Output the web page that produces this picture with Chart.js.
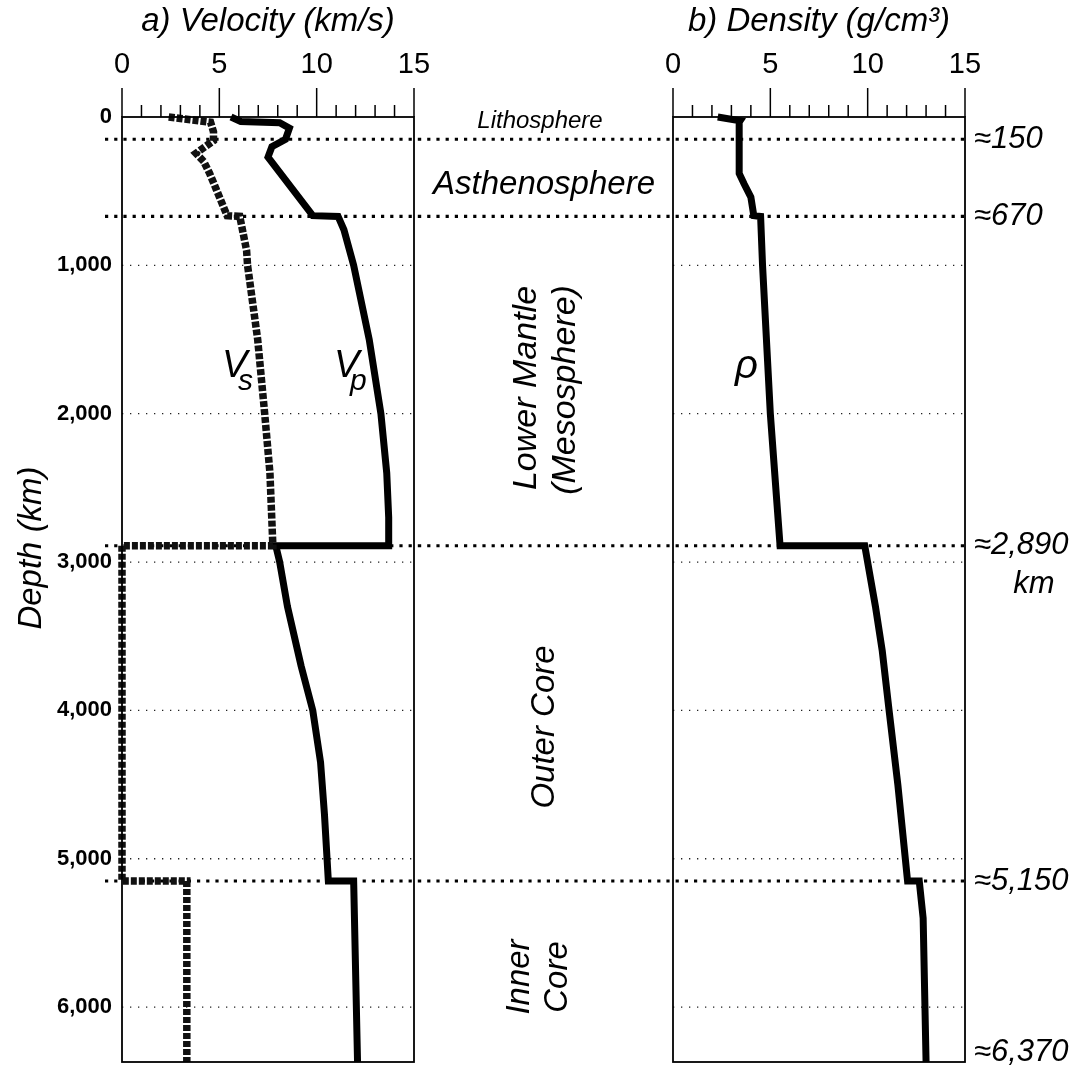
<!DOCTYPE html>
<html>
<head>
<meta charset="utf-8">
<script src="https://cdn.jsdelivr.net/npm/chart.js@4.4.1/dist/chart.umd.min.js"></script>
<style>
  body { margin: 0; background: #fff; }
  #wrap { position: relative; width: 1078px; height: 1071px; }
  .panel { position: absolute; top: 0; height: 1071px; }
  #left { left: 0; width: 440px; }
  #right { left: 418px; width: 660px; }
</style>
</head>
<body>
<div id="wrap">
  <div class="panel" id="left"><canvas id="velocity"></canvas></div>
  <div class="panel" id="right"><canvas id="density"></canvas></div>
</div>
<script>
// P-wave velocity (km/s) against depth (km)
const depthVp = [0, 30, 38, 75, 150, 200, 270, 665, 670, 760, 1000, 1500, 2000, 2400, 2700, 2890,
  2890, 3000, 3300, 3700, 4000, 4350, 4700, 5150, 5150, 6370];
const vp = [5.6, 6.1, 8.1, 8.6, 8.4, 7.7, 7.5, 9.8, 11.1, 11.4, 11.9, 12.7, 13.3, 13.6, 13.7, 13.7,
  7.9, 8.1, 8.5, 9.2, 9.8, 10.2, 10.4, 10.6, 11.9, 12.1];

// S-wave velocity (km/s)
const depthVs = [0, 10, 35, 100, 160, 245, 300, 380, 490, 665, 670, 900, 1000, 1500, 2000, 2400, 2890,
  2890, 5150, 5150, 6370];
const vs = [2.4, 3.0, 4.55, 4.7, 4.7, 3.8, 4.2, 4.5, 4.85, 5.4, 6.05, 6.4, 6.45, 6.97, 7.33, 7.6, 7.75,
  0, 0, 3.33, 3.33];

// Density (g/cm3)
const depthRho = [0, 25, 35, 380, 450, 540, 665, 670, 1000, 2000, 2890, 2890, 3300, 3600, 4000, 4500, 5150,
  5150, 5400, 6370];
const rho = [2.3, 3.45, 3.4, 3.4, 3.65, 4.0, 4.15, 4.5, 4.6, 5.0, 5.5, 9.85, 10.4, 10.75, 11.1, 11.55, 12.05,
  12.65, 12.85, 13.0];

const depthTicks = [0, 1000, 2000, 3000, 4000, 5000, 6000];
const valueTicks = [0, 5, 10, 15];
const boundaryDepths = [150, 670, 2890, 5150];
const sideDepths = [150, 670, 2890, 5150, 6370];
const sideLabels = ["≈150", "≈670", "≈2,890", "≈5,150", "≈6,370"];

const FONT = '"Liberation Sans", Arial, sans-serif';
const DEPTH_MAX = 6370;
const OFF = 418; // page x of the right canvas

const toPoints = (depths, values) => depths.map((d, i) => ({ x: values[i], y: d }));

const text = (ctx, str, x, y, size, opts = {}) => {
  ctx.save();
  ctx.font = `${opts.style || "italic"} ${opts.weight || "normal"} ${size}px ${FONT}`;
  ctx.fillStyle = "#000";
  ctx.textAlign = opts.align || "center";
  ctx.textBaseline = opts.baseline || "alphabetic";
  ctx.translate(x, y);
  if (opts.rotate) ctx.rotate(opts.rotate);
  ctx.fillText(str, 0, 0);
  ctx.restore();
};

const hLine = (ctx, y, x0, x1, width, dash, color) => {
  ctx.save();
  ctx.strokeStyle = color;
  ctx.lineWidth = width;
  ctx.setLineDash(dash);
  ctx.beginPath();
  ctx.moveTo(x0, y);
  ctx.lineTo(x1, y);
  ctx.stroke();
  ctx.restore();
};

// grid and heavy boundary lines, shared by both panels
const drawBack = (chart, bx0, bx1) => {
  const { ctx, chartArea: a, scales: { y } } = chart;
  depthTicks.slice(1).forEach((d) => {
    hLine(ctx, y.getPixelForValue(d), a.left, a.right, 1.3, [1.3, 6.7], "#222");
  });
  boundaryDepths.forEach((d) => {
    hLine(ctx, y.getPixelForValue(d), bx0, bx1, 3.2, [3.2, 6], "#000");
  });
};

// frame, top ticks, tick numbers and panel title
const drawFrame = (chart, title) => {
  const { ctx, chartArea: a, scales: { x } } = chart;
  ctx.save();
  ctx.strokeStyle = "#000";
  ctx.lineWidth = 1.8;
  ctx.strokeRect(a.left, a.top, a.right - a.left, a.bottom - a.top);
  ctx.lineWidth = 1.5;
  for (let v = 0; v <= 15; v++) {
    const px = x.getPixelForValue(v);
    const len = v % 5 === 0 ? 29 : 12;
    ctx.beginPath();
    ctx.moveTo(px, a.top);
    ctx.lineTo(px, a.top - len);
    ctx.stroke();
  }
  ctx.restore();
  valueTicks.forEach((v) => {
    text(ctx, String(v), x.getPixelForValue(v), 73, 29, { style: "normal" });
  });
  text(ctx, title, (a.left + a.right) / 2, 31, 33);
};

const leftDecor = {
  id: "leftDecor",
  beforeDatasetsDraw(chart) {
    drawBack(chart, 105, OFF);
  },
  afterDraw(chart) {
    const ctx = chart.ctx;
    drawFrame(chart, "a) Velocity (km/s)");
    text(ctx, "Depth (km)", 32, 548, 33, { rotate: -Math.PI / 2, baseline: "middle" });
    text(ctx, "V", 222, 377, 38, { align: "left" });
    text(ctx, "s", 238, 390, 30, { align: "left" });
    text(ctx, "V", 334, 377, 38, { align: "left" });
    text(ctx, "p", 350, 390, 30, { align: "left" });
  },
};

const rightDecor = {
  id: "rightDecor",
  beforeDatasetsDraw(chart) {
    drawBack(chart, 0, 970 - OFF);
  },
  afterDraw(chart) {
    const { ctx, chartArea: a, scales: { y } } = chart;
    drawFrame(chart, "b) Density (g/cm³)");
    text(ctx, "ρ", 735 - OFF, 378, 40, { align: "left" });

    text(ctx, "Lithosphere", 540 - OFF, 128, 24);
    text(ctx, "Asthenosphere", 544 - OFF, 194, 33);
    const up = -Math.PI / 2;
    text(ctx, "Lower Mantle", 527 - OFF, 388, 34, { rotate: up, baseline: "middle" });
    text(ctx, "(Mesosphere)", 566 - OFF, 390, 34, { rotate: up, baseline: "middle" });
    text(ctx, "Outer Core", 545 - OFF, 727, 33, { rotate: up, baseline: "middle" });
    text(ctx, "Inner", 520 - OFF, 977, 33, { rotate: up, baseline: "middle" });
    text(ctx, "Core", 558 - OFF, 977, 33, { rotate: up, baseline: "middle" });

    sideDepths.forEach((d, i) => {
      const py = Math.min(y.getPixelForValue(d), a.bottom - 10);
      text(ctx, sideLabels[i], 974 - OFF, py, 31, { align: "left", baseline: "middle" });
    });
    text(ctx, "km", 1034 - OFF, 584, 31, { baseline: "middle" });
  },
};

const lineStyle = {
  showLine: true,
  pointRadius: 0,
  borderColor: "#000",
  borderWidth: 7,
  borderCapStyle: "butt",
  borderJoinStyle: "miter",
  tension: 0,
  fill: false,
  clip: false,
};

const xScale = { type: "linear", min: 0, max: 15, display: false };

new Chart(document.getElementById("velocity"), {
  type: "scatter",
  data: {
    datasets: [
      { ...lineStyle, label: "Vs", data: toPoints(depthVs, vs), borderDash: [6, 2], borderWidth: 7.5, borderColor: "#111" },
      { ...lineStyle, label: "Vp", data: toPoints(depthVp, vp) },
    ],
  },
  options: {
    responsive: true,
    maintainAspectRatio: false,
    animation: false,
    devicePixelRatio: 1,
    layout: { padding: { top: 117, right: 26, bottom: 9, left: 0 } },
    plugins: { legend: { display: false }, tooltip: { enabled: false } },
    scales: {
      x: xScale,
      y: {
        type: "linear",
        reverse: true,
        min: 0,
        max: DEPTH_MAX,
        afterFit: (scale) => {
          scale.width = 122;
          scale.paddingTop = 0;
          scale.paddingBottom = 0;
        },
        afterBuildTicks: (scale) => { scale.ticks = depthTicks.map((v) => ({ value: v })); },
        grid: { display: false, drawTicks: false },
        border: { display: false },
        ticks: {
          padding: 10,
          color: "#000",
          font: { family: FONT, size: 22, weight: "bold" },
          callback: (v) => v.toLocaleString("en-US"),
        },
      },
    },
  },
  plugins: [leftDecor],
});

new Chart(document.getElementById("density"), {
  type: "scatter",
  data: {
    datasets: [{ ...lineStyle, label: "rho", data: toPoints(depthRho, rho) }],
  },
  options: {
    responsive: true,
    maintainAspectRatio: false,
    animation: false,
    devicePixelRatio: 1,
    layout: { padding: { top: 117, right: 113, bottom: 9, left: 673 - OFF } },
    plugins: { legend: { display: false }, tooltip: { enabled: false } },
    scales: {
      x: xScale,
      y: { type: "linear", reverse: true, min: 0, max: DEPTH_MAX, display: false },
    },
  },
  plugins: [rightDecor],
});
</script>
</body>
</html>
